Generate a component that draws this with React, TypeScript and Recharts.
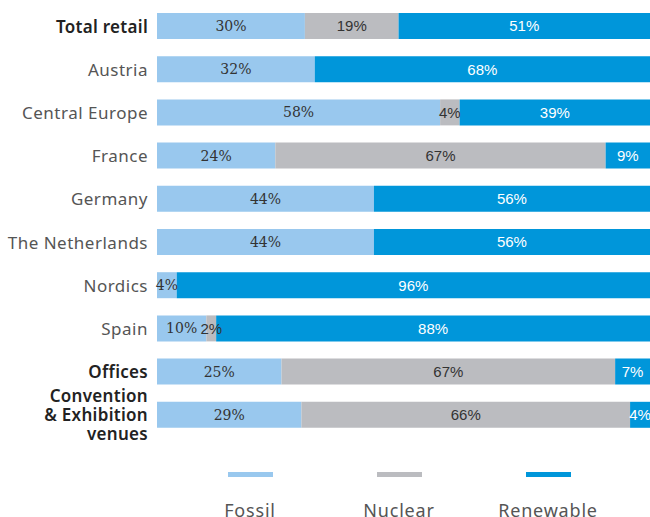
import React from "react";
import { BarChart, Bar, XAxis, YAxis, LabelList, Legend } from "recharts";

const categories = [
  "Total retail",
  "Austria",
  "Central Europe",
  "France",
  "Germany",
  "The Netherlands",
  "Nordics",
  "Spain",
  "Offices",
  "Convention\n& Exhibition\nvenues",
];
const boldCategories = ["Total retail", "Offices", "Convention\n& Exhibition\nvenues"];
const fossil = [30, 32, 58, 24, 44, 44, 4, 10, 25, 29];
const nuclear = [19, 0, 4, 67, 0, 0, 0, 2, 67, 66];
const renewable = [51, 68, 39, 9, 56, 56, 96, 88, 7, 4];

const seriesNames = ["Fossil", "Nuclear", "Renewable"];
const colors = ["#99C8EE", "#BBBCC0", "#0096DA"];

const data = categories.map((c, i) => ({
  name: c,
  fossil: fossil[i],
  nuclear: nuclear[i],
  renewable: renewable[i],
}));

const serifFont = "'DejaVu Serif', 'Liberation Serif', serif";
const sansLabelFont = "'Liberation Sans', Arial, sans-serif";
const axisFont = "'Noto Sans', 'Open Sans', sans-serif";

const fmt = (v: any) => (v ? `${v}%` : "");

const CategoryTick = (props: any) => {
  const { x, y, payload } = props;
  const lines = String(payload.value).split("\n");
  const bold = boldCategories.includes(payload.value);
  const lh = 19;
  const startDy = -((lines.length - 1) * lh) / 2;
  return (
    <text
      x={x}
      y={y}
      textAnchor="end"
      fontFamily={axisFont}
      fontSize={17}
      letterSpacing={bold ? 0.3 : 0.5}
      fontWeight={bold ? 600 : 400}
      fill={bold ? "#222" : "#555"}
      dominantBaseline="central"
    >
      {lines.map((l, i) => (
        <tspan key={i} x={x} dy={i === 0 ? startDy : lh}>
          {l}
        </tspan>
      ))}
    </text>
  );
};

const LegendContent = () => {
  const centers = [250, 399, 548];
  return (
    <div style={{ position: "relative", width: 650, height: 81 }}>
      {seriesNames.map((n, i) => (
        <React.Fragment key={n}>
          <div
            style={{
              position: "absolute",
              left: centers[i] - 22,
              top: 36,
              width: 45,
              height: 5,
              background: colors[i],
            }}
          />
          <div
            style={{
              position: "absolute",
              left: centers[i] - 70,
              width: 140,
              top: 62,
              textAlign: "center",
              fontFamily: axisFont,
              fontSize: 18,
              letterSpacing: 0.8,
              color: "#555",
              lineHeight: "24px",
            }}
          >
            {n}
          </div>
        </React.Fragment>
      ))}
    </div>
  );
};

export default function App() {
  return (
    <div style={{ position: "absolute", left: 0, top: 0, width: 650, height: 517, background: "#fff", overflow: "hidden" }}>
      <BarChart
        width={650}
        height={517}
        data={data}
        layout="vertical"
        stackOffset="expand"
        margin={{ top: 4, right: 0, bottom: 0, left: 0 }}
        barSize={26}
      >
        <XAxis type="number" hide domain={[0, 1]} />
        <YAxis
          type="category"
          dataKey="name"
          width={157}
          axisLine={false}
          tickLine={false}
          tickMargin={3}
          interval={0}
          tick={<CategoryTick />}
        />
        <Legend verticalAlign="bottom" content={<LegendContent />} wrapperStyle={{ left: 0, width: 650, height: 81 }} />
        <Bar dataKey="fossil" name={seriesNames[0]} stackId="a" fill={colors[0]} isAnimationActive={false}>
          <LabelList dataKey="fossil" position="center" formatter={fmt} fill="#333" fontFamily={serifFont} fontSize={14} />
        </Bar>
        <Bar dataKey="nuclear" name={seriesNames[1]} stackId="a" fill={colors[1]} isAnimationActive={false}>
          <LabelList dataKey="nuclear" position="center" formatter={fmt} fill="#333" fontFamily={sansLabelFont} fontSize={15} />
        </Bar>
        <Bar dataKey="renewable" name={seriesNames[2]} stackId="a" fill={colors[2]} isAnimationActive={false}>
          <LabelList dataKey="renewable" position="center" formatter={fmt} fill="#fff" fontFamily={sansLabelFont} fontSize={15} />
        </Bar>
      </BarChart>
    </div>
  );
}
